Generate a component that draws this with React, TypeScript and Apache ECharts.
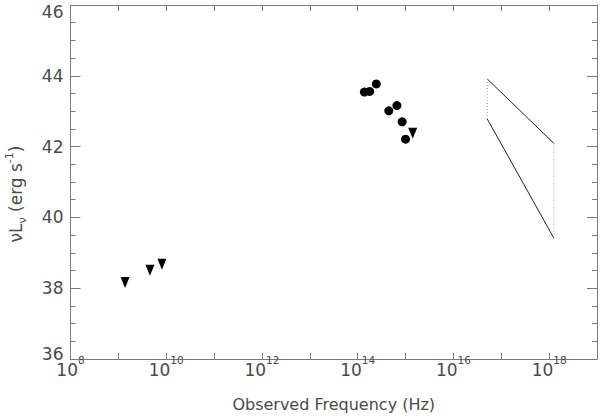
import React, { useEffect, useRef } from "react";
import * as echarts from "echarts";

// Observed frequency (Hz) and log nuL_nu (erg s^-1)
const opticalFreq = [1.38e14, 1.78e14, 2.45e14, 4.47e14, 6.6e14, 8.5e14, 1.0e15];
const opticalLum = [43.54, 43.56, 43.77, 43.01, 43.16, 42.7, 42.21];
const uvLimitFreq = [1.41e15];
const uvLimitLum = [42.38];
const radioLimitFreq = [1.38e9, 4.57e9, 8.13e9];
const radioLimitLum = [38.16, 38.51, 38.68];
const xrayFreq = [5.1e16, 1.26e18];
const xrayUpper = [43.91, 42.09];
const xrayLower = [42.78, 39.41];
const xTickExponents = [8, 10, 12, 14, 16, 18];
const yTickLabels = [36, 38, 40, 42, 44, 46];

const AXIS_COLOR = "#7a7a7a";
const TEXT_COLOR = "#4a4a4a";
const FONT = "DejaVu Sans";

// x axis is drawn in decades (log10 of frequency)
const pairs = (xs: number[], ys: number[]) => xs.map((x, i) => [Math.log10(x), ys[i]]);

export default function App() {
  const ref = useRef<HTMLDivElement>(null);
  useEffect(() => {
    if (!ref.current) return;
    const chart = echarts.init(ref.current, null, { renderer: "svg" });
    const xBase = {
      type: "value" as const,
      min: 8,
      max: 19,
      interval: 1,
      axisLine: { show: true, onZero: false, lineStyle: { color: AXIS_COLOR, width: 1 } },
      axisTick: { show: true, inside: true, length: 6, lineStyle: { color: AXIS_COLOR } },
      splitLine: { show: false },
    };
    const yBase = {
      type: "value" as const,
      min: 36,
      max: 46,
      interval: 2,
      axisLine: { show: true, onZero: false, lineStyle: { color: AXIS_COLOR, width: 1 } },
      axisTick: { show: true, inside: true, length: 10, lineStyle: { color: AXIS_COLOR } },
      minorTick: { show: true, splitNumber: 4, length: 5, lineStyle: { color: AXIS_COLOR } },
      splitLine: { show: false },
      minorSplitLine: { show: false },
    };
    const yLab = { fontFamily: FONT, fontSize: 17, color: TEXT_COLOR };
    chart.setOption({
      animation: false,
      backgroundColor: "#ffffff",
      grid: { left: 70.5, right: 3, top: 5, bottom: 59, containLabel: false, outerBoundsMode: "none" },
      xAxis: [
        {
          ...xBase,
          position: "bottom",
          name: "Observed Frequency (Hz)",
          nameLocation: "middle",
          nameGap: 37,
          nameTextStyle: { fontFamily: FONT, fontSize: 16, color: TEXT_COLOR, verticalAlign: "top" },
          axisLabel: {
            show: true,
            margin: -5,
            showMaxLabel: false,
            formatter: (v: number) => {
              const e = Math.round(v);
              if (!xTickExponents.includes(e)) return "";
              return `{b|10}{s|${e}}`;
            },
            rich: {
              b: { fontFamily: FONT, fontSize: 17, color: TEXT_COLOR, lineHeight: 24, verticalAlign: "bottom" },
              s: { fontFamily: FONT, fontSize: 10.5, color: TEXT_COLOR, lineHeight: 11, verticalAlign: "top" },
            },
          },
        },
        { ...xBase, position: "top", axisLabel: { show: false } },
      ],
      yAxis: [
        {
          ...yBase,
          position: "left",
          name: "{a|νL}{sub|ν}{a| (erg s}{sup|-1}{a|)}",
          nameLocation: "middle",
          nameRotate: 90,
          nameGap: 43,
          nameTextStyle: {
            padding: [0, 24, 0, 0],
            rich: {
              a: { fontFamily: FONT, fontSize: 17, color: TEXT_COLOR, lineHeight: 24, verticalAlign: "middle" },
              sub: { fontFamily: FONT, fontSize: 11, color: TEXT_COLOR, lineHeight: 11, verticalAlign: "bottom" },
              sup: { fontFamily: FONT, fontSize: 11, color: TEXT_COLOR, lineHeight: 11, verticalAlign: "top" },
            },
          },
          axisLabel: {
            show: true,
            margin: 7,
            formatter: (v: number) => {
              if (!yTickLabels.includes(v)) return "";
              if (v === yTickLabels[yTickLabels.length - 1]) return `{t|${v}}`;
              if (v === yTickLabels[0]) return `{d|${v}}`;
              return `{n|${v}}`;
            },
            rich: {
              n: { ...yLab },
              t: { ...yLab, padding: [13, 0, 0, 0] },
              d: { ...yLab, padding: [0, 0, 10, 0] },
            },
          },
        },
        { ...yBase, position: "right", axisLabel: { show: false } },
      ],
      series: [
        {
          type: "scatter",
          data: pairs(opticalFreq, opticalLum),
          symbol: "circle",
          symbolSize: 9,
          itemStyle: { color: "#000", opacity: 1 },
        },
        {
          type: "scatter",
          data: pairs(uvLimitFreq, uvLimitLum).concat(pairs(radioLimitFreq, radioLimitLum)),
          symbol: "triangle",
          symbolRotate: 180,
          symbolSize: [9, 11],
          itemStyle: { color: "#000", opacity: 1 },
        },
        {
          type: "line",
          data: pairs(xrayFreq, xrayUpper),
          symbol: "none",
          lineStyle: { color: "#222", width: 1 },
        },
        {
          type: "line",
          data: pairs(xrayFreq, xrayLower),
          symbol: "none",
          lineStyle: { color: "#222", width: 1 },
        },
        {
          type: "line",
          data: pairs([xrayFreq[0], xrayFreq[0]], [xrayUpper[0], xrayLower[0]]),
          symbol: "none",
          lineStyle: { color: "#999", width: 1, type: [1, 2] },
        },
        {
          type: "line",
          data: pairs([xrayFreq[1], xrayFreq[1]], [xrayUpper[1], xrayLower[1]]),
          symbol: "none",
          lineStyle: { color: "#999", width: 1, type: [1, 2] },
        },
      ],
    });
    return () => chart.dispose();
  }, []);
  return (
    <div
      ref={ref}
      style={{ position: "fixed", left: 0, top: 0, width: 600, height: 418, background: "#fff" }}
    />
  );
}
